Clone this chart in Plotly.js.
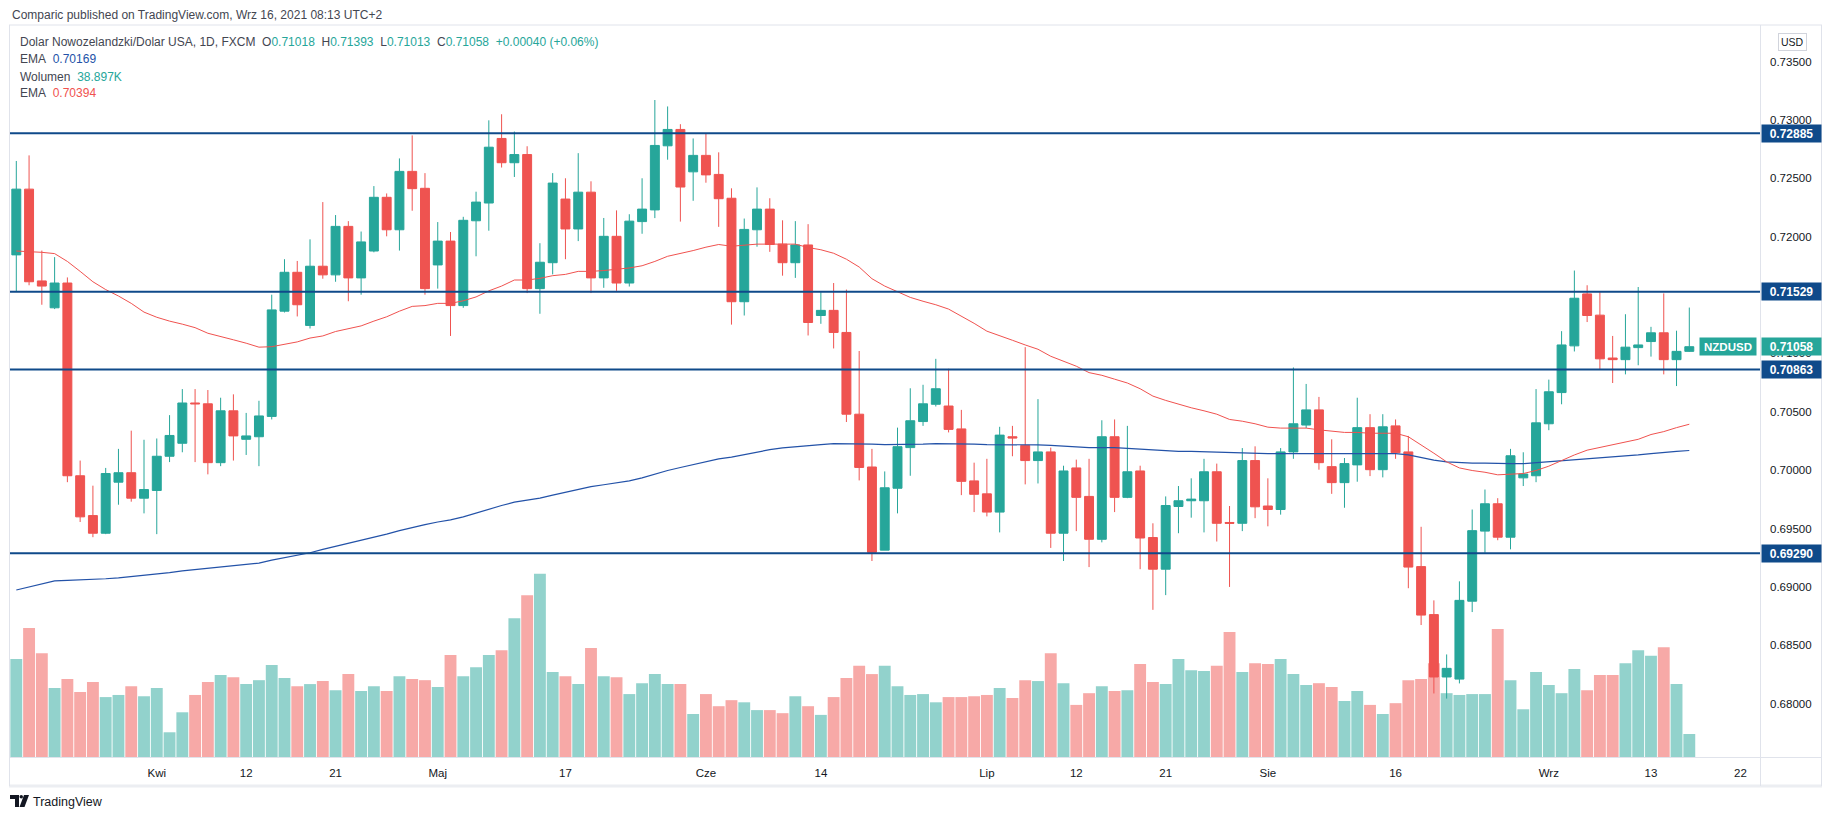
<!DOCTYPE html>
<html><head><meta charset="utf-8">
<script src="https://cdn.plot.ly/plotly-3.0.1.min.js"></script>
<style>html,body{margin:0;padding:0;background:#fff;}#chart{width:1834px;height:821px;}</style>
</head><body><div id="chart"></div>
<script>
const dates = [
'2021-03-17','2021-03-18','2021-03-19','2021-03-22','2021-03-23','2021-03-24','2021-03-25','2021-03-26','2021-03-29','2021-03-30','2021-03-31',
'2021-04-01','2021-04-02','2021-04-05','2021-04-06','2021-04-07','2021-04-08','2021-04-09','2021-04-12','2021-04-13','2021-04-14','2021-04-15','2021-04-16','2021-04-19','2021-04-20','2021-04-21','2021-04-22','2021-04-23','2021-04-26','2021-04-27','2021-04-28','2021-04-29','2021-04-30',
'2021-05-03','2021-05-04','2021-05-05','2021-05-06','2021-05-07','2021-05-10','2021-05-11','2021-05-12','2021-05-13','2021-05-14','2021-05-17','2021-05-18','2021-05-19','2021-05-20','2021-05-21','2021-05-24','2021-05-25','2021-05-26','2021-05-27','2021-05-28','2021-05-31',
'2021-06-01','2021-06-02','2021-06-03','2021-06-04','2021-06-07','2021-06-08','2021-06-09','2021-06-10','2021-06-11','2021-06-14','2021-06-15','2021-06-16','2021-06-17','2021-06-18','2021-06-21','2021-06-22','2021-06-23','2021-06-24','2021-06-25','2021-06-28','2021-06-29','2021-06-30',
'2021-07-01','2021-07-02','2021-07-05','2021-07-06','2021-07-07','2021-07-08','2021-07-09','2021-07-12','2021-07-13','2021-07-14','2021-07-15','2021-07-16','2021-07-19','2021-07-20','2021-07-21','2021-07-22','2021-07-23','2021-07-26','2021-07-27','2021-07-28','2021-07-29','2021-07-30',
'2021-08-02','2021-08-03','2021-08-04','2021-08-05','2021-08-06','2021-08-09','2021-08-10','2021-08-11','2021-08-12','2021-08-13','2021-08-16','2021-08-17','2021-08-18','2021-08-19','2021-08-20','2021-08-23','2021-08-24','2021-08-25','2021-08-26','2021-08-27','2021-08-30','2021-08-31',
'2021-09-01','2021-09-02','2021-09-03','2021-09-06','2021-09-07','2021-09-08','2021-09-09','2021-09-10','2021-09-13','2021-09-14','2021-09-15','2021-09-16'];

const open = [
0.71844,0.72407,0.71621,0.71391,0.71603,0.69953,0.69612,0.69461,0.69898,0.69979,
0.69761,0.69827,0.70120,0.70231,0.70576,0.70569,0.70065,0.70509,0.70265,0.70287,
0.70461,0.71362,0.71695,0.71240,0.71747,0.71673,0.72088,0.71647,0.71877,0.72337,
0.72059,0.72559,0.72414,0.71758,0.71962,0.71410,0.72136,0.72288,0.72841,0.72633,
0.72703,0.71555,0.71777,0.72322,0.72066,0.72381,0.71647,0.72003,0.71603,0.72129,
0.72229,0.72778,0.72918,0.72555,0.72696,0.72533,0.72329,0.71443,0.72059,0.72236,
0.71936,0.71777,0.71929,0.71325,0.71369,0.71180,0.70480,0.70028,0.69316,0.69846,
0.70194,0.70417,0.70565,0.70550,0.70354,0.69909,0.69798,0.69642,0.70287,0.70213,
0.70083,0.70157,0.69461,0.70020,0.69776,0.69409,0.70287,0.69768,0.69994,0.69424,
0.69153,0.69690,0.69739,0.69739,0.69987,0.69553,0.69546,0.70083,0.69694,0.69664,
0.70157,0.70387,0.70517,0.70031,0.69894,0.70046,0.70365,0.70005,0.70380,0.70157,
0.69175,0.68764,0.68230,0.68212,0.68879,0.69479,0.69713,0.69427,0.69935,0.69953,
0.70398,0.70665,0.71065,0.71510,0.71328,0.70961,0.70947,0.71050,0.71102,0.71177,
0.70947,0.71018];
const high = [
0.72648,0.72696,0.71881,0.71825,0.71651,0.70083,0.69868,0.70020,0.70183,0.70339,
0.70261,0.70272,0.70472,0.70695,0.70695,0.70687,0.70621,0.70650,0.70491,0.70595,
0.71503,0.71807,0.71792,0.71977,0.72296,0.72185,0.72133,0.72044,0.72433,0.72370,
0.72670,0.72867,0.72544,0.72125,0.72040,0.72170,0.72385,0.72996,0.73048,0.72900,
0.72774,0.71944,0.72544,0.72500,0.72715,0.72474,0.72160,0.72225,0.72192,0.72500,
0.73170,0.73115,0.72963,0.72841,0.72885,0.72722,0.72414,0.72155,0.72422,0.72329,
0.72140,0.72133,0.72107,0.71525,0.71603,0.71547,0.71021,0.70183,0.69990,0.70365,
0.70702,0.70732,0.70954,0.70869,0.70517,0.70065,0.70098,0.70372,0.70380,0.71054,
0.70609,0.70194,0.70039,0.70091,0.70098,0.70428,0.70435,0.70380,0.70039,0.69546,
0.69776,0.69865,0.69931,0.70098,0.70057,0.69694,0.70190,0.70205,0.69931,0.70190,
0.70880,0.70739,0.70628,0.70265,0.70105,0.70621,0.70480,0.70480,0.70435,0.70294,
0.69516,0.68886,0.68423,0.69049,0.69664,0.69835,0.69761,0.70183,0.70154,0.70695,
0.70776,0.71191,0.71710,0.71584,0.71525,0.71150,0.71336,0.71569,0.71228,0.71514,
0.71195,0.71393];
const low = [
0.71529,0.71584,0.71417,0.71380,0.69898,0.69557,0.69427,0.69453,0.69705,0.69731,
0.69631,0.69453,0.70070,0.70154,0.70070,0.69965,0.70035,0.70083,0.70131,0.70035,
0.70435,0.71351,0.71317,0.71214,0.71640,0.71614,0.71447,0.71503,0.71866,0.72003,
0.71881,0.72222,0.71503,0.71555,0.71150,0.71391,0.71832,0.72051,0.72592,0.72511,
0.71517,0.71340,0.71677,0.71807,0.71962,0.71517,0.71562,0.71536,0.71573,0.72025,
0.72159,0.72659,0.72129,0.72307,0.72462,0.72084,0.71247,0.71325,0.71914,0.71870,
0.71666,0.71647,0.71154,0.71254,0.71043,0.70413,0.69913,0.69223,0.69316,0.69631,
0.69953,0.70380,0.70546,0.70324,0.69787,0.69642,0.69605,0.69468,0.70120,0.69879,
0.69887,0.69335,0.69223,0.69479,0.69171,0.69383,0.69642,0.69761,0.69153,0.68805,
0.68931,0.69461,0.69594,0.69468,0.69390,0.69001,0.69479,0.69590,0.69520,0.69620,
0.70098,0.70361,0.70005,0.69798,0.69679,0.69902,0.69950,0.69939,0.70098,0.68990,
0.68675,0.68089,0.68045,0.68175,0.68786,0.69294,0.69401,0.69323,0.69865,0.69898,
0.70343,0.70565,0.71017,0.71269,0.70863,0.70747,0.70821,0.70899,0.70973,0.70821,
0.70721,0.71013];
const close = [
0.72407,0.71614,0.71577,0.71603,0.69953,0.69601,0.69461,0.69972,0.69979,0.69761,
0.69835,0.70120,0.70298,0.70576,0.70569,0.70065,0.70509,0.70294,0.70294,0.70465,
0.71373,0.71695,0.71417,0.71747,0.71673,0.72088,0.71647,0.71955,0.72337,0.72059,
0.72559,0.72411,0.71555,0.71962,0.71410,0.72140,0.72296,0.72766,0.72633,0.72703,
0.71555,0.71781,0.72459,0.72066,0.72381,0.71647,0.72003,0.71603,0.72133,0.72236,
0.72781,0.72918,0.72425,0.72696,0.72529,0.72325,0.71443,0.72062,0.72236,0.71933,
0.71777,0.71929,0.71265,0.71369,0.71180,0.70480,0.70024,0.69297,0.69850,0.70202,
0.70424,0.70569,0.70698,0.70350,0.69905,0.69794,0.69642,0.70301,0.70276,0.70083,
0.70157,0.69461,0.69994,0.69768,0.69409,0.70287,0.69768,0.69987,0.69420,0.69153,
0.69698,0.69739,0.69753,0.69987,0.69546,0.69546,0.70083,0.69687,0.69664,0.70157,
0.70398,0.70517,0.70065,0.69894,0.70057,0.70365,0.70005,0.70372,0.70150,0.69171,
0.68760,0.68230,0.68304,0.68886,0.69483,0.69713,0.69427,0.70124,0.69968,0.70406,
0.70672,0.71073,0.71473,0.71325,0.70954,0.70947,0.71054,0.71073,0.71177,0.70947,
0.71018,0.71058];
const volumeK = [
165.9,218.0,175.4,116.7,132.1,110.1,127.0,101.3,104.9,119.6,
102.7,116.7,41.8,75.6,104.9,127.0,138.7,135.0,123.3,129.9,
155.6,133.6,119.6,123.3,128.4,113.0,140.2,111.6,119.6,111.6,
136.5,132.1,129.9,118.2,172.5,136.5,151.9,172.5,180.5,234.8,
273.7,309.7,143.8,136.5,123.3,184.2,136.5,135.0,106.4,124.8,
140.2,123.3,123.3,72.7,106.4,85.9,96.1,92.5,79.3,79.3,
74.1,102.7,85.9,71.2,101.3,133.6,154.1,140.2,154.1,119.6,
104.9,106.4,92.5,101.3,101.3,102.7,104.9,116.7,99.8,129.9,
128.4,175.4,124.8,88.1,107.9,119.6,111.6,113.0,157.1,127.0,
123.3,165.9,146.8,145.3,154.1,211.4,143.8,158.5,157.1,165.9,
140.2,121.8,124.8,118.2,94.7,111.6,88.1,72.7,91.0,129.9,
132.1,158.5,107.9,104.9,106.4,106.4,216.5,129.9,80.7,143.8,
121.8,107.9,149.0,113.0,138.7,138.7,158.5,180.5,171.0,185.7,
123.3,38.897];
const emaRed = [
0.71877,0.71873,0.71866,0.71855,0.71788,0.71703,0.71614,0.71547,0.71492,0.71429,
0.71354,0.71310,0.71277,0.71251,0.71221,0.71173,0.71147,0.71117,0.71088,0.71054,
0.71058,0.71080,0.71099,0.71132,0.71150,0.71188,0.71210,0.71236,0.71277,0.71314,
0.71362,0.71403,0.71410,0.71429,0.71429,0.71451,0.71484,0.71536,0.71577,0.71629,
0.71629,0.71643,0.71666,0.71677,0.71703,0.71703,0.71710,0.71718,0.71732,0.71751,
0.71788,0.71832,0.71855,0.71881,0.71910,0.71933,0.71918,0.71925,0.71936,0.71936,
0.71936,0.71936,0.71907,0.71888,0.71858,0.71807,0.71740,0.71640,0.71577,0.71525,
0.71480,0.71447,0.71417,0.71380,0.71321,0.71258,0.71191,0.71154,0.71113,0.71073,
0.71036,0.70976,0.70936,0.70891,0.70836,0.70813,0.70780,0.70747,0.70698,0.70635,
0.70598,0.70565,0.70535,0.70509,0.70480,0.70435,0.70420,0.70398,0.70369,0.70361,
0.70361,0.70361,0.70346,0.70335,0.70324,0.70324,0.70317,0.70317,0.70317,0.70287,
0.70220,0.70146,0.70072,0.70020,0.69998,0.69983,0.69961,0.69965,0.69972,0.69998,
0.70035,0.70083,0.70131,0.70172,0.70194,0.70217,0.70243,0.70265,0.70306,0.70331,
0.70365,0.70394];
const emaBlue = [
0.68975,0.69001,0.69027,0.69053,0.69057,0.69061,0.69064,0.69071,0.69079,0.69090,
0.69101,0.69108,0.69123,0.69138,0.69149,0.69160,0.69171,0.69182,0.69194,0.69205,
0.69231,0.69253,0.69271,0.69294,0.69323,0.69349,0.69375,0.69397,0.69423,0.69453,
0.69483,0.69512,0.69535,0.69557,0.69575,0.69601,0.69635,0.69668,0.69698,0.69727,
0.69742,0.69761,0.69787,0.69812,0.69838,0.69860,0.69876,0.69891,0.69909,0.69935,
0.69968,0.69998,0.70024,0.70050,0.70076,0.70098,0.70113,0.70135,0.70157,0.70176,
0.70191,0.70202,0.70213,0.70220,0.70228,0.70228,0.70228,0.70224,0.70220,0.70220,
0.70220,0.70224,0.70228,0.70228,0.70228,0.70224,0.70220,0.70220,0.70220,0.70220,
0.70217,0.70213,0.70206,0.70198,0.70194,0.70194,0.70194,0.70187,0.70180,0.70172,
0.70168,0.70161,0.70161,0.70157,0.70154,0.70150,0.70146,0.70146,0.70143,0.70143,
0.70143,0.70143,0.70146,0.70146,0.70146,0.70143,0.70143,0.70143,0.70143,0.70131,
0.70109,0.70087,0.70072,0.70065,0.70061,0.70061,0.70057,0.70057,0.70057,0.70065,
0.70072,0.70083,0.70091,0.70098,0.70106,0.70113,0.70120,0.70131,0.70143,0.70154,
0.70161,0.70169];
const levels = [0.72885, 0.71529, 0.70863, 0.69290];
// 0.715 is hidden behind the 0.71529 level label in the reference
const priceTicks = [0.680,0.685,0.690,0.695,0.700,0.705,0.710,0.720,0.725,0.730,0.735];
const tickDates = ['2021-04-01','2021-04-12','2021-04-21','2021-05-03','2021-05-17','2021-06-01','2021-06-14','2021-07-01','2021-07-12','2021-07-21','2021-08-02','2021-08-16','2021-09-01','2021-09-13','2021-09-22'];
const tickLabels = ['Kwi','12','21','Maj','17','Cze','14','Lip','12','21','Sie','16','Wrz','13','22'];

const UP = '#26a69a', DOWN = '#ef5350';
const LEVEL = '#0f4a8a';
const BLUE = '#2352a8', RED = '#f0524f';
const FONT = 'Liberation Sans, Arial, sans-serif';

// pixel -> paper helpers (plot area: x 10..1760, y 29..757)
const L = 10, R = 1760, T = 29, B = 757;
const px = x => (x - L) / (R - L);
const py = y => (B - y) / (B - T);

const volColors = close.map((c, i) => c >= open[i] ? '#92d2cc' : '#f7a9a7');
const n = close.length;
const last = n - 1;
const chg = close[last] - close[last - 1];
const chgPct = chg / close[last - 1] * 100;
const f5 = v => v.toFixed(5);

const traces = [
  {type:'bar', x:dates, y:volumeK, yaxis:'y', marker:{color:volColors, line:{width:0}}, hoverinfo:'skip'},
  {type:'candlestick', x:dates, open:open, high:high, low:low, close:close, yaxis:'y2',
   increasing:{line:{color:UP, width:1}, fillcolor:UP},
   decreasing:{line:{color:DOWN, width:1}, fillcolor:DOWN},
   whiskerwidth:0, hoverinfo:'skip'},
  {type:'scatter', mode:'lines', x:dates, y:emaBlue, yaxis:'y2', line:{color:BLUE, width:1.2}, hoverinfo:'skip'},
  {type:'scatter', mode:'lines', x:dates, y:emaRed, yaxis:'y2', line:{color:RED, width:1}, hoverinfo:'skip'}
];

const shapes = [];
levels.forEach(v => shapes.push({type:'line', xref:'paper', x0:0, x1:1, yref:'y2', y0:v, y1:v, line:{color:LEVEL, width:2}, layer:'above'}));
const frame = '#e0e3eb';
const hl = (x0,x1,y,c,w) => ({type:'line', xref:'paper', yref:'paper', x0:px(x0), x1:px(x1), y0:py(y), y1:py(y), line:{color:c, width:w}});
const vl = (x,y0,y1,c,w) => ({type:'line', xref:'paper', yref:'paper', x0:px(x), x1:px(x), y0:py(y0), y1:py(y1), line:{color:c, width:w}});
shapes.push(hl(9,1822,25,frame,1));
shapes.push(hl(9,1822,757.5,frame,1));
shapes.push(hl(9,1822,786,'#eceef2',3));
shapes.push(vl(9.5,25,786,frame,1));
shapes.push(vl(1760.5,25,786,frame,1));
shapes.push(vl(1821.5,25,786,frame,1));
// TradingView logo glyph
const pth = pts => 'M ' + pts.map(p => px(p[0]) + ',' + py(p[1])).join(' L ') + ' Z';
shapes.push({type:'path', xref:'paper', yref:'paper', path:pth([[10,795],[19,795],[19,807],[15,807],[15,799],[10,799]]), fillcolor:'#131722', line:{width:0}});
shapes.push({type:'circle', xref:'paper', yref:'paper', x0:px(19.5), x1:px(23), y0:py(795), y1:py(798.5), fillcolor:'#131722', line:{width:0}});
shapes.push({type:'path', xref:'paper', yref:'paper', path:pth([[24,795],[29,795],[24.5,807],[19.5,807]]), fillcolor:'#131722', line:{width:0}});

const ann = [];
const txt = (x, y, text, size, color, extra) => Object.assign({xref:'paper', yref:'paper', x:px(x), y:py(y), xanchor:'left', yanchor:'middle', showarrow:false, text:text, font:{family:FONT, size:size, color:color}}, extra||{});
const G = s => '<span style="color:' + UP + '">' + s + '</span>';
const sp = '\u00a0\u00a0';
ann.push(txt(10, 15, 'Comparic published on TradingView.com, Wrz 16, 2021 08:13 UTC+2', 12, '#434651'));
ann.push(txt(18, 42, 'Dolar Nowozelandzki/Dolar USA, 1D, FXCM' + sp + 'O' + G(f5(open[last])) + sp + 'H' + G(f5(high[last])) + sp + 'L' + G(f5(low[last])) + sp + 'C' + G(f5(close[last])) + sp + G((chg>=0?'+':'') + f5(chg) + ' (' + (chg>=0?'+':'') + chgPct.toFixed(2) + '%)'), 12, '#434651'));
ann.push(txt(18, 59.5, 'EMA' + sp + '<span style="color:' + BLUE + '">' + f5(emaBlue[last]) + '</span>', 12, '#434651'));
ann.push(txt(18, 76.5, 'Wolumen' + sp + G(volumeK[last].toFixed(3) + 'K'), 12, '#434651'));
ann.push(txt(18, 93, 'EMA' + sp + '<span style="color:' + RED + '">' + f5(emaRed[last]) + '</span>', 12, '#434651'));
ann.push(txt(31, 802, 'TradingView', 12.5, '#131722'));
// USD box
ann.push(txt(1778, 42, 'USD', 10.5, '#131722', {bordercolor:'#d1d4dc', borderwidth:1, borderpad:2}));
// level boxes on the price axis
levels.forEach(v => ann.push({xref:'paper', x:1, xanchor:'left', xshift:1, yref:'y2', y:v, yanchor:'middle', showarrow:false,
  text:'<b>' + f5(v) + '</b>', bgcolor:LEVEL, font:{family:FONT, size:12, color:'#ffffff'}, width:55, height:13, borderpad:2}));
// last price
ann.push({xref:'paper', x:1, xanchor:'left', xshift:1, yref:'y2', y:close[last], yanchor:'middle', showarrow:false,
  text:'<b>' + f5(close[last]) + '</b>', bgcolor:UP, font:{family:FONT, size:12, color:'#ffffff'}, width:55, height:13, borderpad:2});
ann.push({xref:'paper', x:1, xanchor:'right', xshift:-3, yref:'y2', y:close[last], yanchor:'middle', showarrow:false,
  text:'<b>NZDUSD</b>', bgcolor:UP, font:{family:FONT, size:11.5, color:'#ffffff'}, width:52, height:13, borderpad:2});

const layout = {
  width:1834, height:821,
  margin:{l:L, r:1834-R, t:T, b:821-B, pad:0},
  paper_bgcolor:'#ffffff', plot_bgcolor:'#ffffff',
  showlegend:false, hovermode:false,
  bargap:0.07, boxgap:0.3, boxgroupgap:0,
  xaxis:{type:'date', range:['2021-03-16 12:10','2021-09-23 12:52'],
    rangebreaks:[{bounds:['sat','mon']}], rangeslider:{visible:false},
    tickmode:'array', tickvals:tickDates, ticktext:tickLabels,
    showgrid:false, zeroline:false, showline:false, ticks:'', ticklabelstandoff:7,
    tickfont:{family:FONT, size:11.5, color:'#131722'}},
  yaxis:{range:[0, 1231], visible:false, fixedrange:true},
  yaxis2:{overlaying:'y', side:'right', range:[0.67545, 0.73778],
    tickmode:'array', tickvals:priceTicks, ticktext:priceTicks.map(f5),
    showgrid:false, zeroline:false, showline:false, ticks:'', ticklabelstandoff:9,
    tickfont:{family:FONT, size:11.5, color:'#131722'}},
  shapes:shapes, annotations:ann
};
Plotly.newPlot('chart', traces, layout, {staticPlot:true, displayModeBar:false});
</script></body></html>
